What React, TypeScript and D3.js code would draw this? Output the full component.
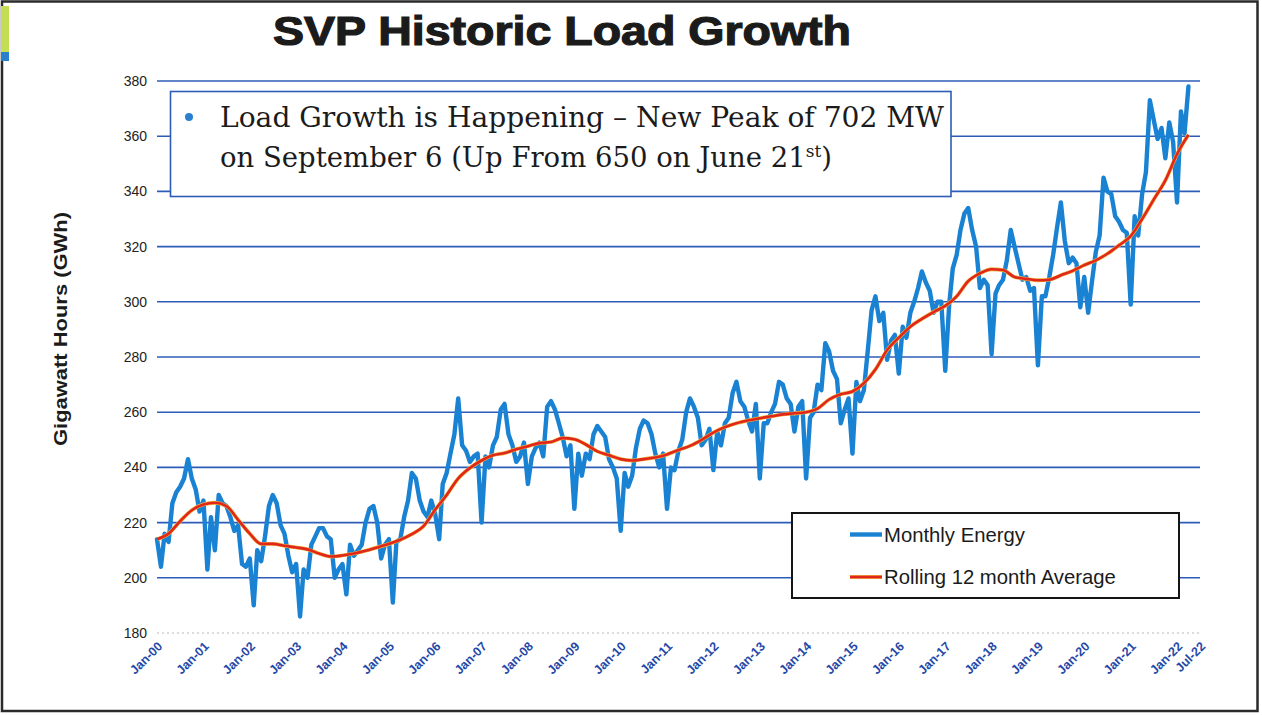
import * as d3 from "d3";
import { useEffect, useRef } from "react";

const title = "SVP Historic Load Growth";
const yAxisTitle = "Gigawatt Hours (GWh)";
const seriesNames = ["Monthly Energy", "Rolling 12 month Average"];
const yTicks = [180, 200, 220, 240, 260, 280, 300, 320, 340, 360, 380];
const xTickLabels = [
  "Jan-00", "Jan-01", "Jan-02", "Jan-03", "Jan-04", "Jan-05", "Jan-06", "Jan-07",
  "Jan-08", "Jan-09", "Jan-10", "Jan-11", "Jan-12", "Jan-13", "Jan-14", "Jan-15",
  "Jan-16", "Jan-17", "Jan-18", "Jan-19", "Jan-20", "Jan-21", "Jan-22", "Jul-22",
];
const calloutLine1 = "Load Growth is Happening \u2013 New Peak of 702 MW";
const calloutLine2 = ["on September 6 (Up From 650 on June 21", "st", ")"];

// monthly energy (GWh), one row per year starting Jan-2000
const firstMonth = "2000-01";
const monthlyEnergy = [
  214, 204, 216, 213, 227, 231, 233, 236, 243, 236, 232, 224,
  228, 203, 222, 210, 230, 227, 226, 222, 217, 219, 205, 204,
  207, 190, 210, 206, 215, 226, 230, 227, 219, 216, 208, 202,
  205, 186, 203, 200, 212, 215, 218, 218, 215, 214, 200, 203,
  205, 194, 212, 208, 210, 212, 220, 225, 226, 220, 207, 212,
  214, 191, 213, 214, 222, 228, 238, 236, 228, 224, 222, 228,
  223, 214, 234, 238, 245, 252, 265, 248, 246, 242, 244, 245,
  220, 244, 240, 248, 251, 261, 263, 252, 248, 242, 244, 249,
  234, 244, 247, 249, 244, 262, 264, 261, 256, 251, 244, 248,
  225, 245, 237, 245, 243, 252, 255, 253, 251, 243, 240, 236,
  217, 238, 233, 237, 247, 254, 257, 256, 252, 245, 240, 245,
  225, 240, 239, 246, 250, 260, 265, 262, 258, 248, 250, 254,
  239, 253, 248, 256, 258, 267, 271, 264, 262, 257, 253, 263,
  236, 256, 256, 260, 263, 271, 270, 265, 263, 253, 262, 264,
  236, 258, 260, 270, 268, 285, 282, 275, 272, 256, 261, 265,
  245, 271, 264, 268, 282, 297, 302, 293, 296, 279, 286, 288,
  274, 291, 287, 296, 300, 305, 311, 307, 304, 296, 300, 300,
  275, 299, 312, 317, 326, 332, 334, 326, 320, 305, 308, 306,
  281, 303, 306, 308, 315, 326, 320, 314, 308, 309, 304, 305,
  277, 302, 302, 309, 317, 327, 336, 322, 314, 316, 314, 298,
  309, 296, 307, 318, 324, 345, 340, 339, 331, 329, 326, 325,
  299, 331, 324, 339, 347, 373, 366, 359, 363, 352, 365, 358,
  336, 369, 361, 378,
];

// rolling 12 month average, read every 3 months (month offset from Jan-2000)
const rollingMonths = [
  0, 3, 6, 9, 12, 15, 18, 21, 24, 27, 30, 33, 36, 39, 42, 45, 48, 51, 54, 57,
  60, 63, 66, 69, 72, 75, 78, 81, 84, 87, 90, 93, 96, 99, 102, 105, 108, 111,
  114, 117, 120, 123, 126, 129, 132, 135, 138, 141, 144, 147, 150, 153, 156,
  159, 162, 165, 168, 171, 174, 177, 180, 183, 186, 189, 192, 195, 198, 201,
  204, 207, 210, 213, 216, 219, 222, 225, 228, 231, 234, 237, 240, 243, 246,
  249, 252, 255, 258, 261, 264, 267,
];
const rollingAverage = [
  214, 216, 220.5, 224.5, 226.6, 227.2, 226, 221, 216, 212.3, 212.3, 211.6,
  211, 210.3, 208.8, 207.7, 208.1, 208.8, 209.8, 211, 212.3, 213.8, 215.8,
  218.7, 224.7, 230, 236, 239.8, 242.5, 244.4, 245.2, 246.6, 247.7, 248.8,
  249.2, 250.6, 250.2, 248.3, 245.8, 244.4, 243, 242.5, 243, 243.6, 244.7,
  246.3, 247.8, 250, 252.6, 254.6, 256, 257, 257.8, 258.5, 259.2, 259.6, 260,
  261.3, 264.6, 266.5, 267.5, 270.5, 275.5, 282.5, 287, 291, 293.8, 296.3,
  298.5, 302, 307.5, 310.3, 311.8, 311.5, 309, 308.3, 307.8, 308, 309.6,
  311.2, 313.3, 315, 317.4, 320.5, 323.8, 330, 337, 344, 353.5, 360.5,
];

const sans = "'Liberation Sans', Arial, sans-serif";

export default function App() {
  const svgRef = useRef(null);

  useEffect(() => {
    const svg = d3.select(svgRef.current);
    svg.selectAll("*").remove();

    const width = 1262;
    const height = 715;
    const marginTop = 81;
    const marginRight = 62;
    const marginBottom = 82;
    const marginLeft = 157;

    const parseMonth = d3.utcParse("%Y-%m");
    const parseTick = d3.utcParse("%b-%y");
    const start = parseMonth(firstMonth);
    const tickDates = xTickLabels.map(parseTick);

    const x = d3.scaleUtc(d3.extent(tickDates), [marginLeft, width - marginRight]);
    const y = d3.scaleLinear([180, 380], [height - marginBottom, marginTop]);
    const monthX = (i) => x(d3.utcMonth.offset(start, i));

    svg.attr("viewBox", [0, 0, width, height])
      .attr("width", width)
      .attr("height", height);

    svg.append("rect").attr("width", width).attr("height", height).attr("fill", "white");

    // scan frame + the little coloured strip on the left
    svg.append("rect")
      .attr("x", 2).attr("y", 1.5).attr("width", 1255.5).attr("height", 709.5)
      .attr("fill", "none").attr("stroke", "#2a2a2a").attr("stroke-width", 2.5);
    svg.append("rect").attr("x", 1).attr("y", 6).attr("width", 8).attr("height", 46).attr("fill", "#c3dd55");
    svg.append("rect").attr("x", 1).attr("y", 52).attr("width", 8).attr("height", 9).attr("fill", "#2a7fcc");

    // title
    svg.append("text")
      .attr("x", 562).attr("y", 45)
      .attr("text-anchor", "middle")
      .attr("font-family", sans).attr("font-weight", "bold").attr("font-size", 40)
      .attr("fill", "#1b1b1b").attr("stroke", "#1b1b1b").attr("stroke-width", 1.2)
      .attr("textLength", 578).attr("lengthAdjust", "spacingAndGlyphs")
      .text(title);

    // grid lines
    svg.append("g")
      .selectAll("line")
      .data(yTicks)
      .join("line")
      .attr("x1", marginLeft).attr("x2", width - marginRight)
      .attr("y1", d => y(d)).attr("y2", d => y(d))
      .attr("stroke", d => d === 180 ? "#b8b8b8" : "#2c5cb6")
      .attr("stroke-width", d => d === 180 ? 1 : 1.6)
      .attr("stroke-dasharray", d => d === 180 ? "2,3" : null);

    // y tick labels
    svg.append("g")
      .selectAll("text")
      .data(yTicks)
      .join("text")
      .attr("x", 147).attr("y", d => y(d))
      .attr("dy", "0.35em")
      .attr("text-anchor", "end")
      .attr("font-family", sans).attr("font-size", 14)
      .attr("fill", "#222")
      .text(d => d);

    // y axis title
    svg.append("text")
      .attr("transform", `translate(67,${(212 + 446) / 2}) rotate(-90)`)
      .attr("text-anchor", "middle")
      .attr("font-family", sans).attr("font-weight", "bold").attr("font-size", 18)
      .attr("fill", "#1b1b1b")
      .attr("textLength", 234).attr("lengthAdjust", "spacingAndGlyphs")
      .text(yAxisTitle);

    // x tick labels, rotated
    svg.append("g")
      .selectAll("text")
      .data(tickDates)
      .join("text")
      .attr("transform", d => `translate(${x(d) + 3},${height - marginBottom + 11}) rotate(-45)`)
      .attr("text-anchor", "end")
      .attr("dy", "0.35em")
      .attr("font-family", sans).attr("font-weight", "bold").attr("font-size", 12.5)
      .attr("fill", "#2448a8")
      .text((d, i) => xTickLabels[i]);

    // monthly energy line
    const line = d3.line()
      .x((d, i) => monthX(i))
      .y(d => y(d));

    svg.append("path")
      .attr("fill", "none")
      .attr("stroke", "#1a82d2")
      .attr("stroke-width", 4.4)
      .attr("stroke-linejoin", "round")
      .attr("stroke-linecap", "round")
      .attr("d", line(monthlyEnergy));

    // rolling average line
    const avgLine = d3.line()
      .x((d, i) => monthX(rollingMonths[i]))
      .y(d => y(d))
      .curve(d3.curveMonotoneX);

    svg.append("path")
      .attr("fill", "none").attr("stroke", "#f0b13a").attr("stroke-width", 3.8)
      .attr("stroke-linejoin", "round")
      .attr("d", avgLine(rollingAverage));
    svg.append("path")
      .attr("fill", "none").attr("stroke", "#e1261c").attr("stroke-width", 2.6)
      .attr("stroke-linejoin", "round")
      .attr("d", avgLine(rollingAverage));

    // callout box
    svg.append("rect")
      .attr("x", 170.5).attr("y", 91.5).attr("width", 780.5).attr("height", 105)
      .attr("fill", "white").attr("stroke", "#2c5cb6").attr("stroke-width", 1.6);
    svg.append("circle").attr("cx", 189).attr("cy", 117).attr("r", 4).attr("fill", "#2a7fd0");
    svg.append("text")
      .attr("x", 220).attr("y", 127)
      .attr("font-family", "'DejaVu Serif', Georgia, serif").attr("font-size", 27)
      .attr("fill", "#1b1b1b")
      .attr("textLength", 724).attr("lengthAdjust", "spacingAndGlyphs")
      .text(calloutLine1);
    const t2 = svg.append("text")
      .attr("x", 220).attr("y", 167)
      .attr("font-family", "'DejaVu Serif', Georgia, serif").attr("font-size", 27.5)
      .attr("fill", "#1b1b1b");
    t2.append("tspan").text(calloutLine2[0]);
    t2.append("tspan").attr("dy", -10).attr("font-size", 17).text(calloutLine2[1]);
    t2.append("tspan").attr("dy", 10).text(calloutLine2[2]);

    // legend
    const legend = svg.append("g");
    legend.append("rect")
      .attr("x", 792).attr("y", 513).attr("width", 387).attr("height", 85)
      .attr("fill", "white").attr("stroke", "#151515").attr("stroke-width", 2);
    const legendColors = ["#1a82d2", "#e1261c"];
    legend.selectAll("g.item")
      .data(seriesNames)
      .join("g")
      .attr("class", "item")
      .attr("transform", (d, i) => `translate(850,${534.5 + i * 42.5})`)
      .each(function (d, i) {
        const g = d3.select(this);
        if (i === 1) {
          g.append("line").attr("x1", 0).attr("x2", 32)
            .attr("stroke", "#f0b13a").attr("stroke-width", 4);
        }
        g.append("line").attr("x1", 0).attr("x2", 32)
          .attr("stroke", legendColors[i]).attr("stroke-width", i === 0 ? 4.4 : 2.6);
        g.append("text")
          .attr("x", 34).attr("dy", "0.36em")
          .attr("font-family", sans).attr("font-size", 20.3)
          .attr("fill", "#1b1b1b")
          .text(d);
      });
  }, []);

  return <svg ref={svgRef} style={{ position: "absolute", left: 0, top: 0 }} />;
}
